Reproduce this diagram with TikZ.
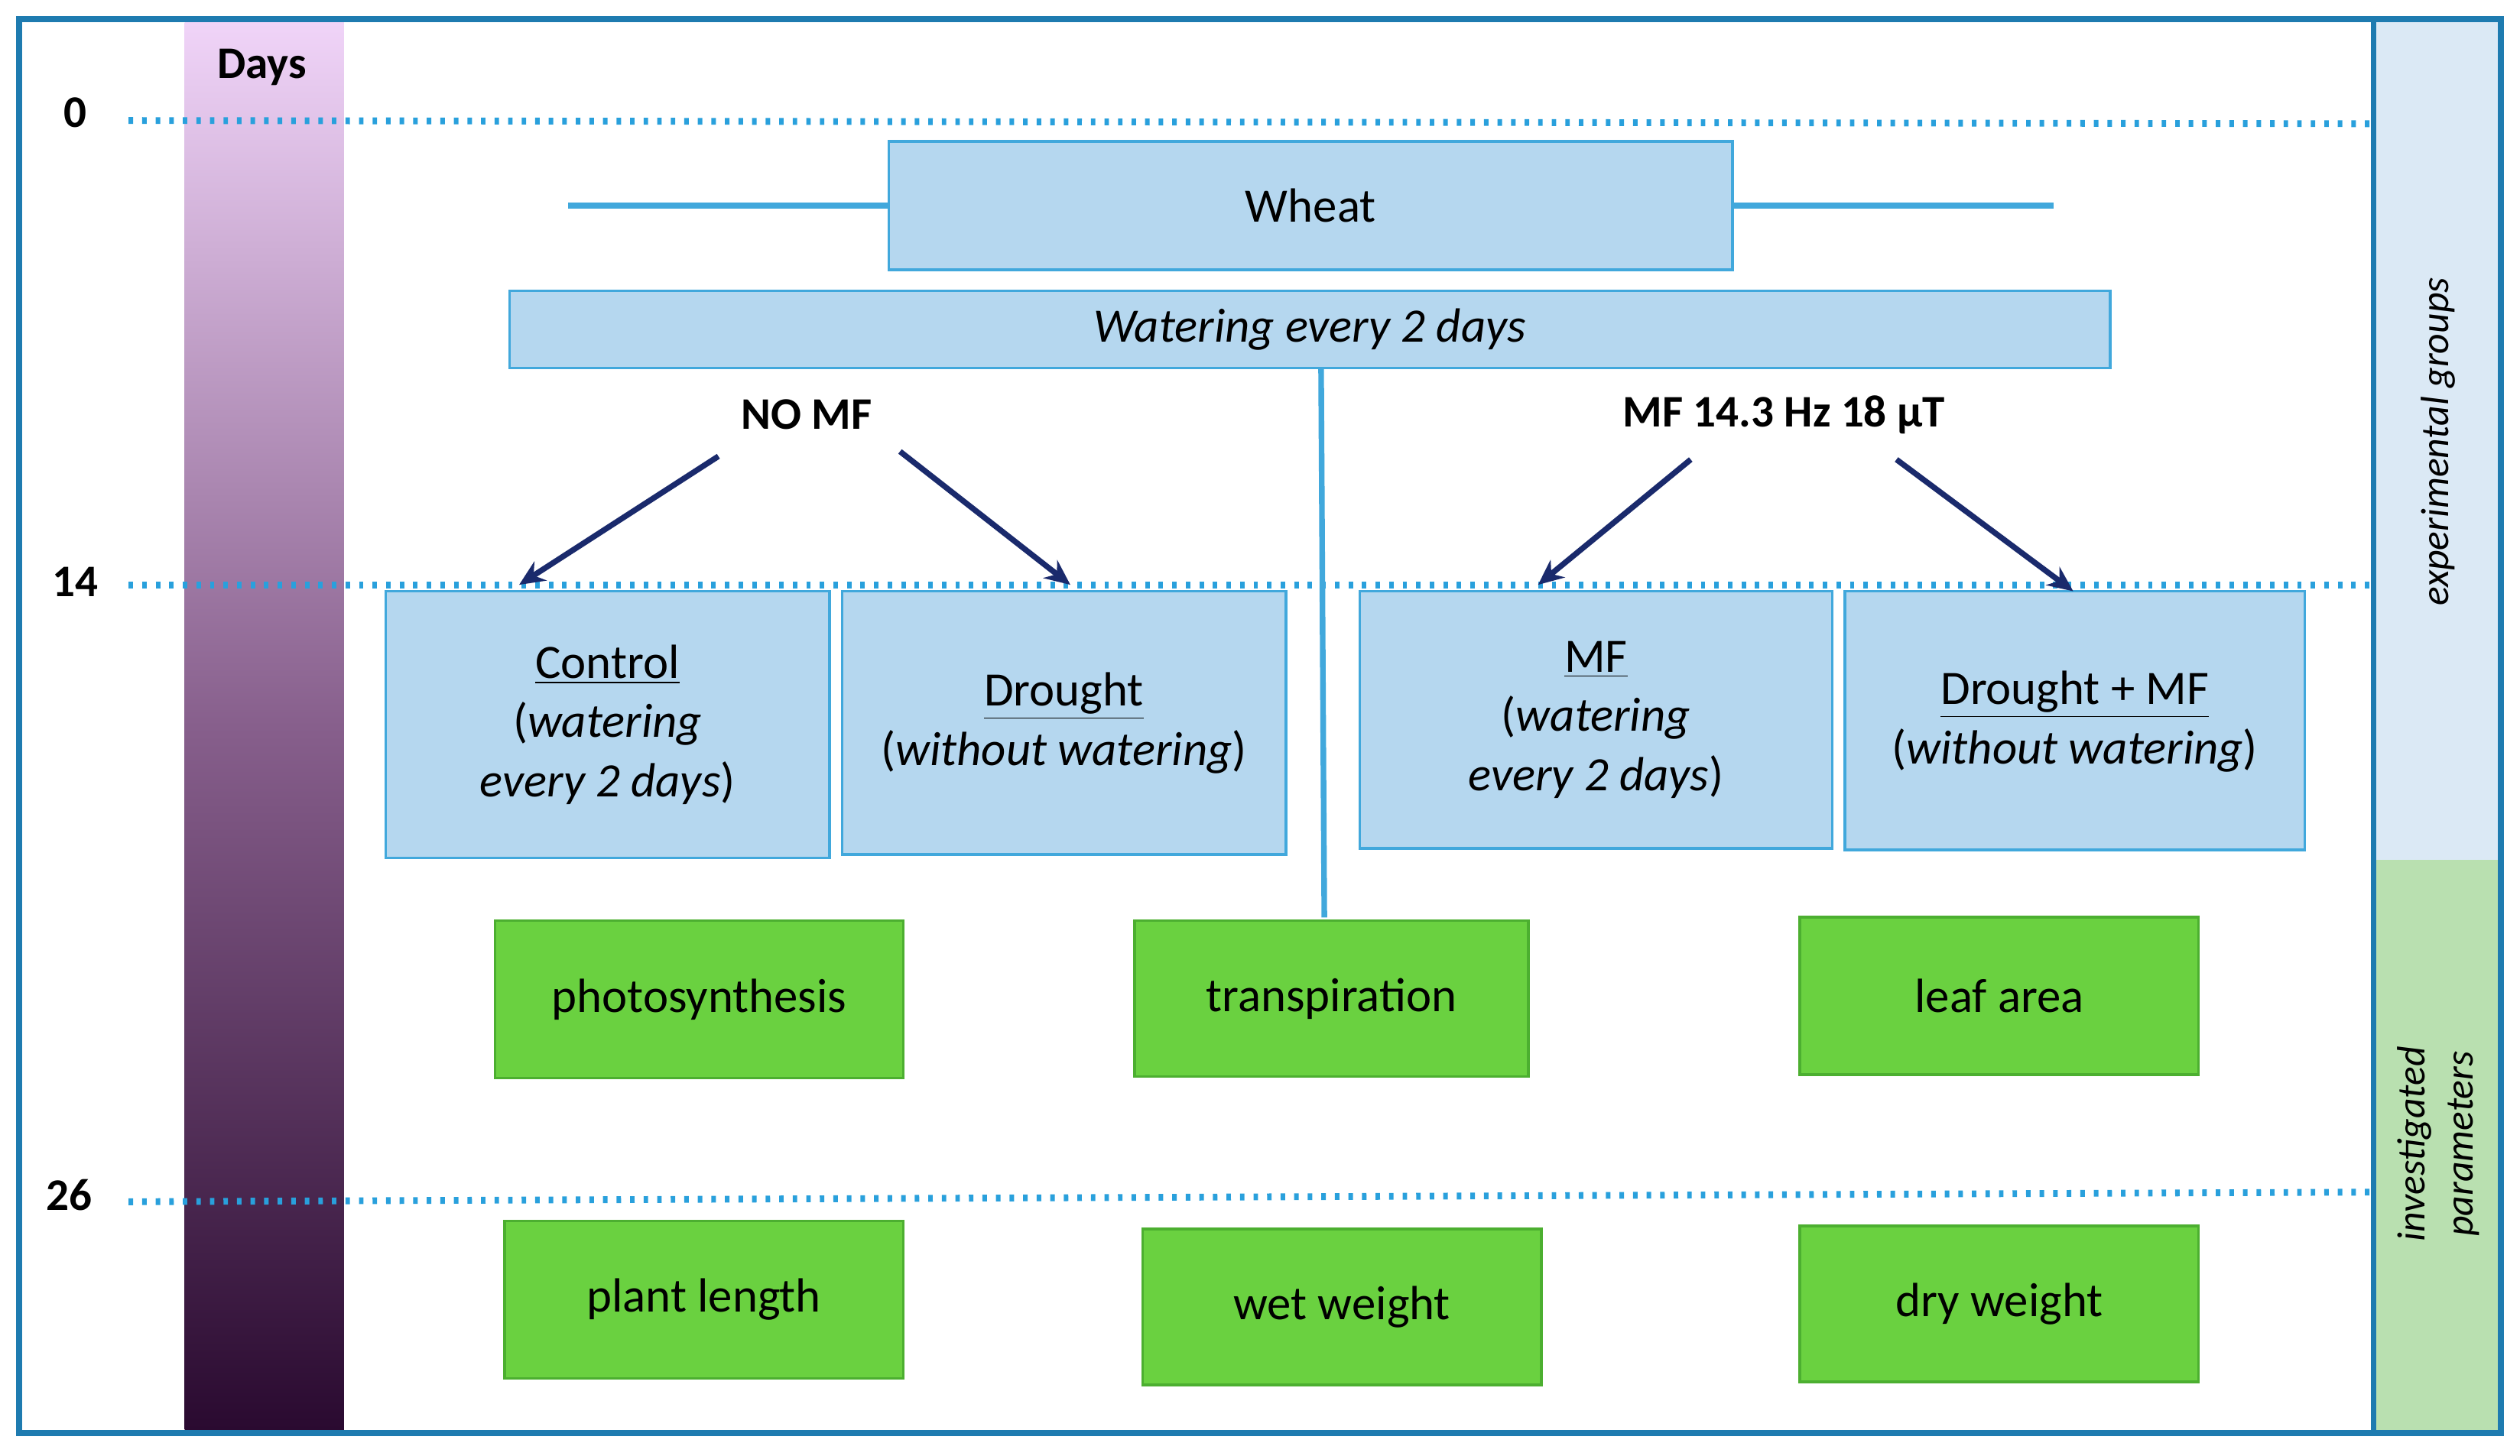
\documentclass[tikz,border=0pt]{standalone}
\usepackage{fontspec}
\setmainfont{Carlito}
\usetikzlibrary{arrows.meta}
\definecolor{bbord}{HTML}{1E7BB0}
\definecolor{dotc}{HTML}{29A0DC}
\definecolor{bfill}{HTML}{B5D7EF}
\definecolor{bline}{HTML}{41A8DC}
\definecolor{gfill}{HTML}{6AD140}
\definecolor{gline}{HTML}{4CAF30}
\definecolor{navy}{HTML}{1A2A6C}
\begin{document}
\begin{tikzpicture}[x=0.02cm,y=-0.02cm,
  txt/.style={font=\fontsize{17}{21}\selectfont},
  bbox/.style={draw=bline,fill=bfill,line width=1pt,txt,align=center},
  gbox/.style={draw=gline,fill=gfill,line width=1pt,txt,align=center},
  dots/.style={dotc,line width=2.4pt,dash pattern=on 1.6pt off 3.2pt},
  arr/.style={navy,line width=2pt,-{Stealth[length=9pt,width=8pt]}},
  lab/.style={font=\fontsize{16}{19}\selectfont\bfseries}]
\useasboundingbox (0,0) rectangle (1568,906);
\fill[white] (0,0) rectangle (1568,906);
\fill[blue!8!cyan!10!white, fill={rgb,255:red,219;green,233;blue,245}] (1477,12) rectangle (1556,535);
\fill[fill={rgb,255:red,185;green,224;blue,176}] (1477,535) rectangle (1556,892);
\shade[top color={rgb,255:red,240;green,212;blue,248}, bottom color={rgb,255:red,42;green,10;blue,48}, middle color={rgb,255:red,135;green,95;blue,140}] (115,14) rectangle (214,890);
\draw[bbord,line width=2.2pt] (12,12) rectangle (1556,892);
\draw[bbord,line width=2pt] (1477,12) -- (1477,892);
\node[lab] (days) at (163,42) {Days};
\node[lab] (d0) at (47,70) {0};
\node[lab] (d14) at (47,362) {14};
\node[lab] (d26) at (43,744) {26};
\draw[dots] (80,75) -- (1475,77);
\draw[dots] (80,364) -- (1475,364);
\draw[dots] (80,748) -- (1475,742);
\node[bbox,minimum width=525\pgflinewidth, inner sep=0] (wheat) at (815.5,128) {};
\draw[draw=bline,fill=bfill,line width=1pt] (553,88) rectangle (1078,168);
\node[txt] (wheatt) at (815.5,128) {Wheat};
\draw[draw=bline,fill=bfill,line width=1pt] (317,181) rectangle (1313,229);
\node[txt] (water) at (815,205) {\itshape Watering every 2 days};
\coordinate (vtop) at (822,229);
\draw[bline,line width=2pt] (vtop) -- (824,571);
\node[lab] (nomf) at (502,258) {NO MF};
\node[lab] (mf) at (1110,258) {MF 14.3 Hz 18 µT};
\draw[draw=bline,fill=bfill,line width=1pt] (240,368) rectangle (516,534);
\node[txt,align=center] (ctrl) at (378,451) {\underline{Control}\\(\textit{watering}\\\textit{every 2 days})};
\draw[draw=bline,fill=bfill,line width=1pt] (524,368) rectangle (800,532);
\node[txt,align=center] (dr) at (662,450) {\underline{Drought}\\(\textit{without watering})};
\draw[draw=bline,fill=bfill,line width=1pt] (846,368) rectangle (1140,528);
\node[txt,align=center] (mfb) at (993,448) {\underline{MF}\\(\textit{watering}\\\textit{every 2 days})};
\draw[draw=bline,fill=bfill,line width=1pt] (1148,368) rectangle (1434,529);
\node[txt,align=center] (drmf) at (1291,449) {\underline{Drought + MF}\\(\textit{without watering})};
\coordinate (a1) at (447,284); \coordinate (b1) at (323,364);
\coordinate (a2) at (560,281); \coordinate (b2) at (666,364);
\coordinate (a3) at (1052,286); \coordinate (b3) at (957,364);
\coordinate (a4) at (1180,286); \coordinate (b4) at (1290,368);
\draw[arr] (a1) -- (b1);
\draw[arr] (a2) -- (b2);
\draw[arr] (a3) -- (b3);
\draw[arr] (a4) -- (b4);
\node[gbox,minimum width=254*0.02cm,minimum height=98*0.02cm] (p1) at (435,622) {photosynthesis};
\node[gbox,minimum width=245*0.02cm,minimum height=97*0.02cm] (p2) at (828.5,621.5) {transpiration};
\node[gbox,minimum width=248*0.02cm,minimum height=98*0.02cm] (p3) at (1244,620) {leaf area};
\node[gbox,minimum width=248*0.02cm,minimum height=98*0.02cm] (p4) at (438,809) {plant length};
\node[gbox,minimum width=248*0.02cm,minimum height=97*0.02cm] (p5) at (835,813.5) {wet weight};
\node[gbox,minimum width=248*0.02cm,minimum height=97*0.02cm] (p6) at (1244,811.5) {dry weight};
\node[font=\fontsize{14}{17}\selectfont\itshape,rotate=90] (eg) at (1517,275) {experimental groups};
\node[font=\fontsize{14}{17}\selectfont\itshape,rotate=90,align=center] (ip) at (1517,712) {investigated\\parameters};
\end{tikzpicture}
\end{document}
